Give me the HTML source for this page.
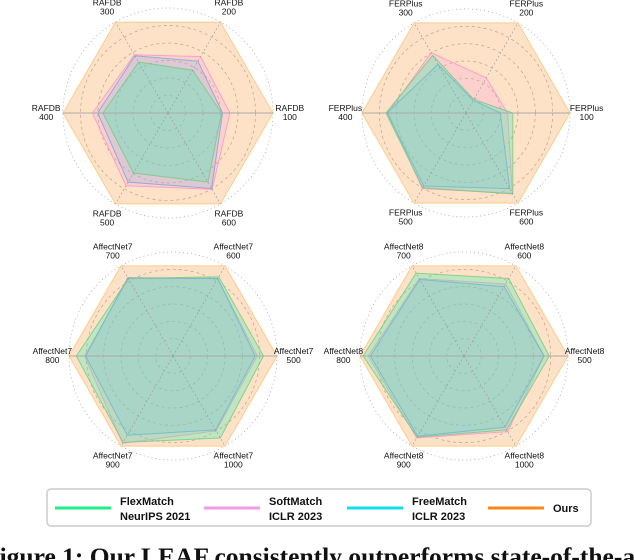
<!DOCTYPE html>
<html><head><meta charset="utf-8">
<style>
body{margin:0;background:#fff;width:634px;height:560px;overflow:hidden;position:relative;font-family:"Liberation Sans",sans-serif}
svg{position:absolute;left:0;top:0}
</style></head><body>
<svg id="chart" width="634" height="560"></svg>
<script>
const seriesNames=["Ours","FlexMatch","FreeMatch","SoftMatch"];
const panelTitles=["RAFDB","FERPlus","AffectNet7","AffectNet8"];
const axisLabelsTL=["100","200","300","400","500","600"];
const axisLabelsTR=["100","200","300","400","500","600"];
const axisLabelsBL=["500","600","700","800","900","1000"];
const axisLabelsBR=["500","600","700","800","900","1000"];
const oursTL=[1,1,1,1,1,1];
const flexTL=[0.51,0.47,0.56,0.62,0.66,0.76];
const freeTL=[0.52,0.57,0.63,0.67,0.76,0.83];
const softTL=[0.59,0.62,0.64,0.72,0.80,0.84];
const oursTR=[1,1,1,1,1,1];
const flexTR=[0.45,0.15,0.64,0.77,0.83,0.90];
const freeTR=[0.33,0.14,0.54,0.76,0.81,0.84];
const softTR=[0.40,0.39,0.67,0.75,0.84,0.89];
const oursBL=[1,1,1,1,1,1];
const flexBL=[0.87,0.88,0.86,0.93,0.96,0.91];
const freeBL=[0.79,0.86,0.87,0.84,0.88,0.82];
const softBL=[0.81,0.86,0.86,0.85,0.97,0.83];
const oursBR=[1,1,1,1,1,1];
const flexBR=[0.82,0.86,0.92,0.97,0.90,0.82];
const freeBR=[0.77,0.77,0.85,0.90,0.89,0.79];
const softBR=[0.77,0.80,0.86,0.92,0.91,0.84];

const NS="http://www.w3.org/2000/svg";
const svg=document.getElementById('chart');
function mk(tag,attrs,parent){const e=document.createElementNS(NS,tag);for(const k in attrs)e.setAttribute(k,attrs[k]);(parent||svg).appendChild(e);return e;}
const styles={
 Ours:{fill:"rgba(253,180,110,0.38)",stroke:"rgba(253,200,130,0.9)"},
 FlexMatch:{fill:"rgba(60,240,170,0.32)",stroke:"rgba(120,200,130,0.8)"},
 FreeMatch:{fill:"rgba(90,180,235,0.20)",stroke:"rgba(130,160,215,0.8)"},
 SoftMatch:{fill:"rgba(250,140,225,0.22)",stroke:"rgba(245,150,200,0.8)"}
};
const panels=[
 {cx:168,cy:113,R:105,title:panelTitles[0],labels:axisLabelsTL,data:[oursTL,softTL,freeTL,flexTL]},
 {cx:466,cy:113,R:104,title:panelTitles[1],labels:axisLabelsTR,data:[oursTR,softTR,freeTR,flexTR]},
 {cx:173,cy:356,R:104,title:panelTitles[2],labels:axisLabelsBL,data:[oursBL,softBL,freeBL,flexBL]},
 {cx:464,cy:356,R:104,title:panelTitles[3],labels:axisLabelsBR,data:[oursBR,softBR,freeBR,flexBR]}
];
const order=["Ours","SoftMatch","FreeMatch","FlexMatch"];
panels.forEach((p,pi)=>{
 const g=mk('g',{});
 
 
 const ang=i=>-i*Math.PI/3;
 const pt=(i,v)=>[p.cx+Math.cos(ang(i))*v*p.R,p.cy+Math.sin(ang(i))*v*p.R];
 for(let k=1;k<=6;k++){
  const c=mk('circle',{cx:p.cx,cy:p.cy,r:p.R*k/6,fill:"none",stroke:"#999","stroke-width":0.7,"stroke-dasharray":k==6?"1,3":"3,3"},g);
  
  
 }
 p.data.forEach((vals,si)=>{
  const nm=order[si];
  const pts=vals.map((v,i)=>pt(i,v).join(',')).join(' ');
  const poly=mk('polygon',{points:pts,fill:styles[nm].fill,stroke:styles[nm].stroke,"stroke-width":1},g);
  
  
 });
 for(let i=0;i<6;i++){
  const [x,y]=pt(i,1.0);
  const l=mk('line',{x1:p.cx,y1:p.cy,x2:x,y2:y,stroke:i%3==0?"#aaa":"#999","stroke-width":i%3==0?1:0.6,"stroke-dasharray":i%3==0?"":"2,2"},g);
  
  
  const [tx,ty]=pt(i,1.16);
  const t=mk('text',{x:tx,y:ty-2,"font-size":8.5,"text-anchor":"middle",fill:"#111","font-family":"Liberation Sans, sans-serif"},g);
  
  
  const s1=mk('tspan',{x:tx,dy:0},t);s1.textContent=p.title;
  const s2=mk('tspan',{x:tx,dy:9},t);s2.textContent=p.labels[i];
 }
});
const lg=mk('g',{});


mk('rect',{x:47,y:489,width:544,height:37,rx:4,fill:"#fff",stroke:"#ccc","stroke-width":1.5},lg);
const legendItems=[["FlexMatch","NeurIPS 2021","#22ee88",55],["SoftMatch","ICLR 2023","#f59ae6",204],["FreeMatch","ICLR 2023","#11ddf2",347],["Ours","","#ff8811",488]];
legendItems.forEach(([a,b,c,x])=>{
 const e=mk('g',{},lg);
 
 
 mk('line',{x1:x,y1:508,x2:x+56,y2:508,stroke:c,"stroke-width":3},e);
 if(b){
  const t1=mk('text',{x:x+65,y:505,"font-size":11,"font-weight":"bold",fill:"#111"},e);t1.textContent=a;
  const t2=mk('text',{x:x+65,y:520,"font-size":11,"font-weight":"bold",fill:"#111"},e);t2.textContent=b;
 }else{
  const t1=mk('text',{x:x+65,y:512,"font-size":11,"font-weight":"bold",fill:"#111"},e);t1.textContent=a;
 }
});
const cap=mk('text',{x:-16,y:565,"font-size":25.5,"font-weight":"bold",fill:"#111","font-family":"Liberation Serif, serif"});


cap.textContent="Figure 1: Our LEAF consistently outperforms state-of-the-art";
</script>
</body></html>
